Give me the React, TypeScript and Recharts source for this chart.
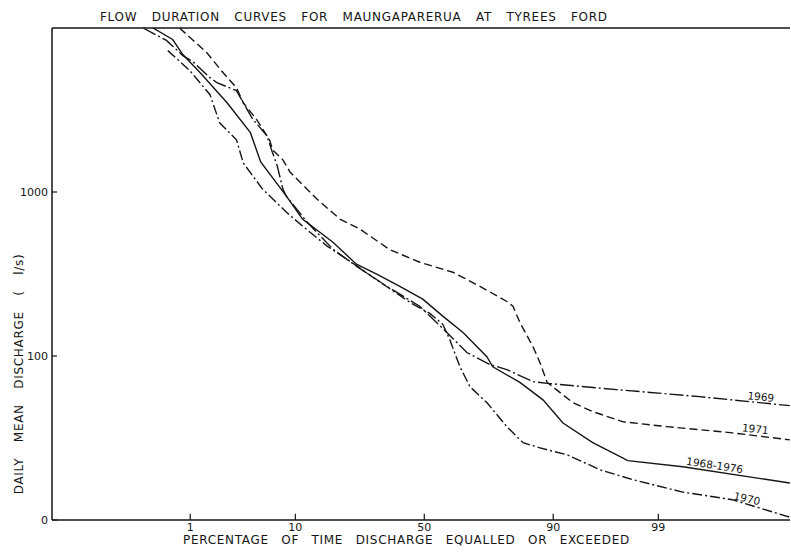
import { LineChart, Line, XAxis, YAxis, ReferenceLine, ReferenceDot } from 'recharts';

// percentage of time equalled or exceeded, and daily mean discharge (l/s)
const PCT_ALL = [0.35, 0.62, 0.82, 1.29, 2.5, 4.2, 5.2, 8.5, 11.3, 18.2, 25, 32, 40.4, 49.4, 57.3, 65, 73.3, 75.2, 82.9, 88.1, 91.6, 95.3, 97.85, 99.49, 99.986];
const Q_ALL = [10000, 8510, 6890, 5350, 3500, 2300, 1525, 946, 684, 494, 363, 315, 266, 222, 175, 139, 99, 86, 69, 54, 39, 29.6, 23, 21.1, 16.8];

const PCT_1969 = [0.26, 0.52, 0.82, 1.07, 1.66, 1.96, 3.1, 3.6, 4.4, 5.9, 6.5, 7.2, 8.0, 8.5, 12.2, 18.2, 25, 35.5, 48.2, 58.9, 66.4, 74.3, 79.4, 86, 89.4, 97.2, 99.69, 99.986];
const Q_1969 = [10000, 8400, 6790, 6240, 4980, 4645, 4150, 3500, 2790, 2200, 1780, 1440, 1042, 946, 656, 448, 353, 266, 201, 139, 105, 88.7, 82.6, 69.8, 67.9, 62.4, 56.5, 49.8];

const PCT_1971 = [0.75, 1.53, 2.27, 3.1, 3.6, 4.8, 6.2, 6.6, 8.0, 9.1, 14.3, 20.1, 26.1, 36.6, 48.2, 61.2, 71, 79.4, 81.1, 82.9, 86, 87.5, 88.9, 89.9, 93, 95.3, 97.6, 99.2, 99.89, 99.986];
const Q_1971 = [10000, 7080, 5350, 4325, 3500, 2755, 2080, 1807, 1570, 1325, 906, 684, 594, 445, 373, 324, 266, 215, 201, 160, 114, 91, 69, 65, 52, 45.8, 39.7, 37.1, 34, 30.8];

const PCT_1970 = [0.54, 0.99, 1.66, 2.1, 3.1, 3.6, 5.4, 8.5, 11.3, 16.7, 23, 33, 45.5, 52.2, 57.3, 60, 63.8, 67.5, 73.3, 79.4, 83.7, 87.5, 92.2, 96, 98.1, 99.49, 99.89, 99.986];
const Q_1970 = [7280, 5500, 3920, 2640, 2080, 1503, 1042, 755, 620, 468, 378, 282, 207, 182, 156, 126, 86.3, 65, 52, 37.1, 29.6, 27.5, 25, 20.2, 17.6, 14.8, 13.3, 10.4];

const X_TICKS = [1, 10, 50, 90, 99];
const Y_TICKS = [10, 100, 1000];
const Y_TICK_LABELS = ['0', '100', '1000'];

// where the curve names sit: [text, pct, discharge, angle]
const TAGS: [string, number, number, number][] = [
  ['1969', 99.958, 52, 6],
  ['1971', 99.949, 33.1, 6],
  ['1968-1976', 99.8, 19.9, 8.5],
  ['1970', 99.93, 12.5, 13],
];

// inverse normal cdf (Acklam) for the probability axis
function probit(p: number): number {
  const a = [-39.69683028665376, 220.9460984245205, -275.9285104469687, 138.357751867269, -30.66479806614716, 2.506628277459239];
  const b = [-54.47609879822406, 161.5858368580409, -155.6989798598866, 66.80131188771972, -13.28068155288572];
  const c = [-0.007784894002430293, -0.3223964580411365, -2.400758277161838, -2.549732539343734, 4.374664141464968, 2.938163982698783];
  const d = [0.007784695709041462, 0.3224671290700398, 2.445134137142996, 3.754408661907416];
  const lo = 0.02425;
  if (p < lo) {
    const q = Math.sqrt(-2 * Math.log(p));
    return (((((c[0] * q + c[1]) * q + c[2]) * q + c[3]) * q + c[4]) * q + c[5]) / ((((d[0] * q + d[1]) * q + d[2]) * q + d[3]) * q + 1);
  }
  if (p <= 1 - lo) {
    const q = p - 0.5;
    const r = q * q;
    return ((((((a[0] * r + a[1]) * r + a[2]) * r + a[3]) * r + a[4]) * r + a[5]) * q) / (((((b[0] * r + b[1]) * r + b[2]) * r + b[3]) * r + b[4]) * r + 1);
  }
  const q = Math.sqrt(-2 * Math.log(1 - p));
  return -(((((c[0] * q + c[1]) * q + c[2]) * q + c[3]) * q + c[4]) * q + c[5]) / ((((d[0] * q + d[1]) * q + d[2]) * q + d[3]) * q + 1);
}

const toPoints = (pct: number[], q: number[]) => pct.map((p, i) => ({ z: probit(p / 100), q: q[i] }));

const X_MIN = -3.7;
const X_MAX = 3.635;
const INK = '#151515';
const FONT = '"DejaVu Sans", sans-serif';

const xTickZ = X_TICKS.map((p) => probit(p / 100));

function Tag({ viewBox, text, angle }: any) {
  const x = viewBox?.x ?? 0;
  const y = viewBox?.y ?? 0;
  return (
    <text
      x={x}
      y={y}
      dy={-2}
      textAnchor="middle"
      fontSize={10.5}
      fontFamily={FONT}
      fill={INK}
      transform={`rotate(${angle} ${x} ${y})`}
    >
      {text}
    </text>
  );
}

const titleStyle: React.CSSProperties = {
  position: 'absolute',
  fontFamily: FONT,
  fontSize: 12,
  letterSpacing: 0.7,
  wordSpacing: 10,
  color: INK,
  whiteSpace: 'pre',
  lineHeight: '13px',
};

export default function App() {
  return (
    <div style={{ position: 'absolute', left: 0, top: 0, width: 791, height: 554, background: '#fff' }}>
      <div style={{ ...titleStyle, left: 100, top: 11 }}>FLOW DURATION CURVES FOR MAUNGAPARERUA AT TYREES FORD</div>
      <div style={{ ...titleStyle, left: 183, top: 534, wordSpacing: 8 }}>PERCENTAGE OF TIME DISCHARGE EQUALLED OR EXCEEDED</div>
      <div
        style={{
          ...titleStyle,
          left: 19,
          top: 374,
          wordSpacing: 11,
          transform: 'translate(-50%, -50%) rotate(-90deg)',
        }}
      >
        DAILY MEAN DISCHARGE ( l/s)
      </div>
      <LineChart width={791} height={554} margin={{ top: 28, right: 1, bottom: 0, left: 0 }}>
        <XAxis
          type="number"
          dataKey="z"
          domain={[X_MIN, X_MAX]}
          allowDataOverflow
          ticks={xTickZ}
          tickFormatter={(v: number) => {
            const i = xTickZ.findIndex((t) => Math.abs(t - v) < 1e-6);
            return i >= 0 ? String(X_TICKS[i]) : '';
          }}
          height={34}
          tickSize={0}
          tickMargin={3}
          axisLine={{ stroke: INK, strokeWidth: 1.5 }}
          tick={{ fill: INK, fontSize: 11, fontFamily: FONT }}
        />
        <YAxis
          type="number"
          dataKey="q"
          scale="log"
          domain={[10, 10000]}
          allowDataOverflow
          ticks={Y_TICKS}
          tickFormatter={(v: number) => Y_TICK_LABELS[Y_TICKS.indexOf(v)] ?? ''}
          width={52}
          tickSize={0}
          tickMargin={4}
          axisLine={{ stroke: INK, strokeWidth: 1.5 }}
          tick={{ fill: INK, fontSize: 11, fontFamily: FONT }}
        />
        <ReferenceLine y={10000} stroke={INK} strokeWidth={1.5} />
        {xTickZ.map((z) => (
          <ReferenceLine key={`xt${z}`} segment={[{ x: z, y: 10 }, { x: z, y: 10.9 }]} stroke={INK} strokeWidth={1.2} />
        ))}
        {Y_TICKS.map((v) => (
          <ReferenceLine key={`yt${v}`} segment={[{ x: X_MIN, y: v }, { x: X_MIN + 0.05, y: v }]} stroke={INK} strokeWidth={1.2} />
        ))}
        <Line data={toPoints(PCT_ALL, Q_ALL)} dataKey="q" type="linear" stroke={INK} strokeWidth={1.4} dot={false} isAnimationActive={false} />
        <Line data={toPoints(PCT_1969, Q_1969)} dataKey="q" type="linear" stroke={INK} strokeWidth={1.4} strokeDasharray="14 3 2 3" dot={false} isAnimationActive={false} />
        <Line data={toPoints(PCT_1971, Q_1971)} dataKey="q" type="linear" stroke={INK} strokeWidth={1.4} strokeDasharray="8 4" dot={false} isAnimationActive={false} />
        <Line data={toPoints(PCT_1970, Q_1970)} dataKey="q" type="linear" stroke={INK} strokeWidth={1.4} strokeDasharray="10 3 2 3" dot={false} isAnimationActive={false} />
        {TAGS.map(([text, pct, q, angle]) => (
          <ReferenceDot
            key={text}
            x={probit(pct / 100)}
            y={q}
            r={0}
            fill="none"
            stroke="none"
            label={(props: any) => <Tag {...props} text={text} angle={angle} />}
          />
        ))}
      </LineChart>
    </div>
  );
}
